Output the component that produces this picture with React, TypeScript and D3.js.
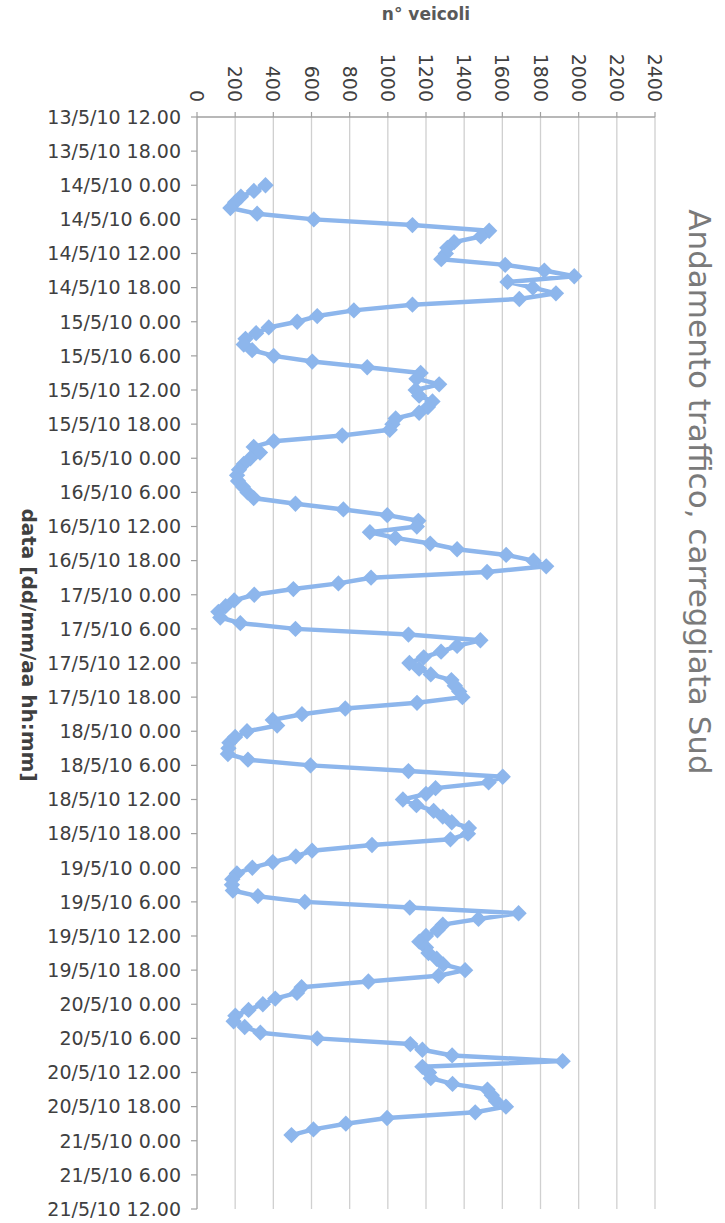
import React from "react";
import * as d3 from "d3";

// hourly values (n° veicoli), starting at 00.00 of each day
const day14 = [359, 298, 230, 200, 175, 315, 612, 1129, 1531, 1487, 1347, 1312, 1304, 1280, 1615, 1820, 1977, 1627, 1760, 1881, 1689, 1129, 822, 630];
const day15 = [525, 376, 310, 254, 245, 289, 402, 604, 892, 1172, 1150, 1269, 1146, 1164, 1234, 1210, 1164, 1041, 1024, 1010, 761, 402, 297, 330];
const day16 = [280, 245, 220, 210, 215, 240, 265, 297, 516, 767, 997, 1160, 1152, 906, 1040, 1222, 1363, 1620, 1763, 1830, 1520, 912, 741, 505];
const day17 = [300, 195, 150, 112, 122, 227, 516, 1108, 1485, 1363, 1279, 1188, 1113, 1164, 1225, 1333, 1351, 1374, 1391, 1153, 777, 550, 397, 420];
const day18 = [262, 200, 170, 165, 162, 267, 595, 1108, 1602, 1528, 1250, 1200, 1079, 1150, 1240, 1288, 1335, 1425, 1420, 1328, 917, 603, 518, 397];
const day19 = [290, 209, 185, 183, 188, 319, 565, 1115, 1685, 1475, 1288, 1260, 1200, 1165, 1200, 1213, 1256, 1290, 1405, 1265, 898, 548, 524, 410];
const day20 = [345, 270, 201, 192, 250, 332, 630, 1118, 1181, 1337, 1916, 1181, 1216, 1225, 1339, 1522, 1545, 1566, 1619, 1458, 996, 780, 610, 495];

const dayStarts = [14, 15, 16, 17, 18, 19, 20];
const dayValues = [day14, day15, day16, day17, day18, day19, day20];

const valueTicks = [0, 200, 400, 600, 800, 1000, 1200, 1400, 1600, 1800, 2000, 2200, 2400];

const chartTitle = "Andamento traffico, carreggiata Sud";
const valueAxisTitle = "n° veicoli";
const timeAxisTitle = "data [dd/mm/aa hh:mm]";

type Pt = { t: Date; v: number };
const series: Pt[] = [];
dayValues.forEach((vals, i) => {
  vals.forEach((v, h) => {
    series.push({ t: new Date(Date.UTC(2010, 4, dayStarts[i], h)), v });
  });
});

const W = 725;
const H = 1223;
const FONT = "'DejaVu Sans', sans-serif";
const BLUE = "#8db6ec";

export default function App() {
  const x = d3.scaleLinear().domain([0, 2400]).range([197, 655]);
  const tStart = new Date(Date.UTC(2010, 4, 13, 12));
  const tEnd = new Date(Date.UTC(2010, 4, 21, 12));
  const y = d3.scaleUtc().domain([tStart, tEnd]).range([117, 1209]);
  const timeTicks = d3.utcHour.every(6)!.range(tStart, new Date(tEnd.getTime() + 1));
  const fmt = (d: Date) =>
    `${d.getUTCDate()}/${d.getUTCMonth() + 1}/${String(d.getUTCFullYear()).slice(2)} ${d.getUTCHours()}.00`;

  const line = d3
    .line<Pt>()
    .x((d) => x(d.v))
    .y((d) => y(d.t));

  const diamond = d3.symbol().type(d3.symbolDiamond2).size(170)()!;

  const [x0, x1] = x.range();
  const [y0, y1] = y.range();

  return (
    <svg
      width={W}
      height={H}
      style={{ position: "absolute", left: 0, top: 0, background: "#fff" }}
      fontFamily={FONT}
    >
      {/* gridlines */}
      {valueTicks.slice(1).map((v) => (
        <line key={"g" + v} x1={x(v)} x2={x(v)} y1={y0} y2={y1} stroke="#d0d0d0" strokeWidth={1.3} />
      ))}
      {/* value axis line (top) */}
      <line x1={x0} x2={x1} y1={y0} y2={y0} stroke="#a0a0a0" strokeWidth={1.3} />
      {valueTicks.map((v) => (
        <line key={"vt" + v} x1={x(v)} x2={x(v)} y1={y0 - 5} y2={y0} stroke="#a0a0a0" strokeWidth={1.2} />
      ))}
      {valueTicks.map((v) => (
        <text
          key={"vl" + v}
          transform={`translate(${x(v) - 7},${y0 - 15}) rotate(90)`}
          textAnchor="end"
          fontSize={19}
          fill="#404040"
        >
          {v}
        </text>
      ))}
      {/* time axis line (left) */}
      <line x1={x0} x2={x0} y1={y0} y2={y1} stroke="#a0a0a0" strokeWidth={1.3} />
      {timeTicks.map((t) => (
        <line key={"tt" + t.getTime()} x1={x0 - 6} x2={x0} y1={y(t)} y2={y(t)} stroke="#a0a0a0" strokeWidth={1.2} />
      ))}
      {timeTicks.map((t) => (
        <text
          key={"tl" + t.getTime()}
          x={x0 - 16}
          y={y(t)}
          dy="0.36em"
          textAnchor="end"
          fontSize={19}
          fill="#404040"
        >
          {fmt(t)}
        </text>
      ))}
      {/* series */}
      <path d={line(series)!} fill="none" stroke={BLUE} strokeWidth={4.5} strokeLinejoin="round" />
      {series.map((p, i) => (
        <path key={"m" + i} d={diamond} transform={`translate(${x(p.v)},${y(p.t)})`} fill={BLUE} />
      ))}
      {/* titles */}
      <text x={(x0 + x1) / 2} y={20} textAnchor="middle" fontSize={17} fontWeight="bold" fill="#595959">
        {valueAxisTitle}
      </text>
      <text
        transform={`translate(22,645) rotate(90)`}
        textAnchor="middle"
        fontSize={20}
        fontWeight="bold"
        fill="#404040"
      >
        {timeAxisTitle}
      </text>
      <text
        transform={`translate(689,492) rotate(90)`}
        textAnchor="middle"
        fontSize={31}
        fill="#7a7a7a"
      >
        {chartTitle}
      </text>
    </svg>
  );
}
